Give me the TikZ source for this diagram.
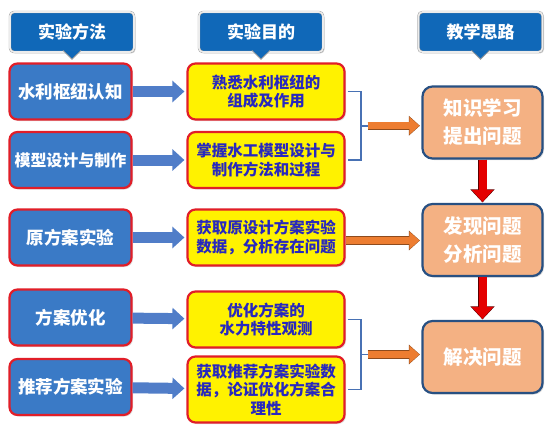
\documentclass[tikz,border=0pt]{standalone}
\usepackage{fontspec}
\setmainfont{Noto Sans CJK SC}
\usetikzlibrary{arrows.meta,shadows,calc}
\definecolor{hdblue}{RGB}{16,104,184}
\definecolor{methblue}{RGB}{58,122,198}
\definecolor{boxred}{RGB}{225,30,40}
\definecolor{txtblue}{RGB}{40,40,190}
\definecolor{peach}{RGB}{244,177,131}
\definecolor{idealine}{RGB}{40,80,130}
\definecolor{arrblue}{RGB}{80,125,200}
\definecolor{arrorange}{RGB}{237,125,49}
\definecolor{arrred}{RGB}{228,0,0}
\tikzset{
  head/.style={fill=hdblue, draw=gray!80, double=gray!15, double distance=1.6pt,
    rounded corners=4pt, minimum width=124pt, minimum height=40pt, inner sep=0pt,
    text=white, font=\bfseries\fontsize{17}{20}\selectfont,
    drop shadow={opacity=0.35,shadow xshift=1.5pt,shadow yshift=-1.5pt}},
  method/.style={fill=methblue, draw=boxred, line width=2.2pt, rounded corners=8pt,
    minimum width=122pt, minimum height=56pt, inner sep=0pt, text=white,
    font=\bfseries\fontsize{17.5}{21}\selectfont,
    drop shadow={opacity=0.25,shadow xshift=1.5pt,shadow yshift=-1.5pt}},
  aim/.style={fill=yellow, draw=boxred, line width=2.2pt, rounded corners=8pt,
    minimum width=157pt, minimum height=56pt, inner sep=0pt, text=txtblue, align=center,
    font=\bfseries\fontsize{15.5}{18.5}\selectfont,
    drop shadow={opacity=0.25,shadow xshift=1.5pt,shadow yshift=-1.5pt}},
  idea/.style={fill=peach, draw=idealine, line width=2.2pt, rounded corners=10pt,
    minimum width=120pt, minimum height=72pt, inner sep=0pt, text=white, align=center,
    font=\bfseries\fontsize{19.5}{28}\selectfont,
    drop shadow={opacity=0.3,shadow xshift=1.5pt,shadow yshift=-1.5pt}},
  pointer/.style={fill=hdblue, draw=gray!80, line width=0.8pt},
  bluearrow/.style={draw=arrblue, line width=11pt, shorten >=2pt,
    -{Triangle[length=12pt,width=21pt]}},
  orangearrow/.style={draw=arrorange, line width=7pt, shorten >=2pt,
    -{Triangle[length=10pt,width=17pt]},
    preaction={draw=arrorange!60!black, line width=8.4pt, shorten >=1.5pt,
      -{Triangle[length=11pt,width=19pt]}}},
  redarrow/.style={draw=arrred, line width=8pt, shorten >=1pt,
    -{Triangle[length=12pt,width=21pt]},
    preaction={draw=arrred!40!black, line width=9.6pt, shorten >=0.5pt,
      -{Triangle[length=13pt,width=23.5pt]}}},
  brace/.style={draw=arrblue!90!black, line width=1.8pt}
}
\begin{document}
\begin{tikzpicture}[x=1pt,y=-1pt]
\useasboundingbox (0,0) rectangle (560,436);
% headers
\node[head] (hm) at (72,32) {实验方法};
\node[head] (hg) at (261,32) {实验目的};
\node[head] (ht) at (480.5,32) {教学思路};
\foreach \h in {hm,hg,ht}
  \draw[pointer] ([xshift=-9pt,yshift=1.8pt]\h.south) -- ([yshift=-7pt]\h.south) -- ([xshift=9pt,yshift=1.8pt]\h.south);
% methods
\node[method] (m1) at (70.5,91.5) {水利枢纽认知};
\node[method,font=\bfseries\fontsize{16}{20}\selectfont] (m2) at (70.5,160) {模型设计与制作};
\node[method] (m3) at (70.5,237.5) {原方案实验};
\node[method] (m4) at (70.5,317.5) {方案优化};
\node[method] (m5) at (70.5,387) {推荐方案实验};
% aims
\node[aim] (g1) at (266,91.5) {熟悉水利枢纽的\\组成及作用};
\node[aim] (g2) at (266,160) {掌握水工模型设计与\\制作方法和过程};
\node[aim] (g3) at (266,237.5) {获取原设计方案实验\\数据，分析存在问题};
\node[aim] (g4) at (266,319.5) {优化方案的\\水力特性观测};
\node[aim,minimum height=66pt] (g5) at (266,389.5) {获取推荐方案实验数\\据，论证优化方案合\\理性};
% ideas
\node[idea] (t1) at (482.5,122.5) {知识学习\\提出问题};
\node[idea] (t2) at (482.5,240) {发现问题\\分析问题};
\node[idea] (t3) at (482.5,357) {解决问题};
% arrows
\foreach \i in {1,...,5}
  \draw[bluearrow] (m\i) -- (g\i);
\draw[redarrow] (t1) -- (t2);
\draw[redarrow] (t2) -- (t3);
\draw[orangearrow] ([yshift=-3pt]g3.east) -- ([yshift=-3pt]g3.east -| t2.west);
% brackets
\coordinate (c1) at ($(g1.east)!.5!(g2.east)+(22,0)$);
\coordinate (c2) at ($(g4.east)!.5!(g5.east)+(22,0)$);
\draw[brace] ([xshift=2pt]g1.east) -- ++(13,0) |- ([xshift=2pt]g2.east);
\draw[brace] ([xshift=2pt]g4.east) -- ++(13,0) |- ([xshift=2pt]g5.east);
\draw[brace] (c1) -- ++(-8,0);
\draw[brace] (c2) -- ++(-8,0);
\draw[orangearrow] (c1) -- (c1 -| t1.west);
\draw[orangearrow] (c2) -- (c2 -| t3.west);
\end{tikzpicture}
\end{document}
